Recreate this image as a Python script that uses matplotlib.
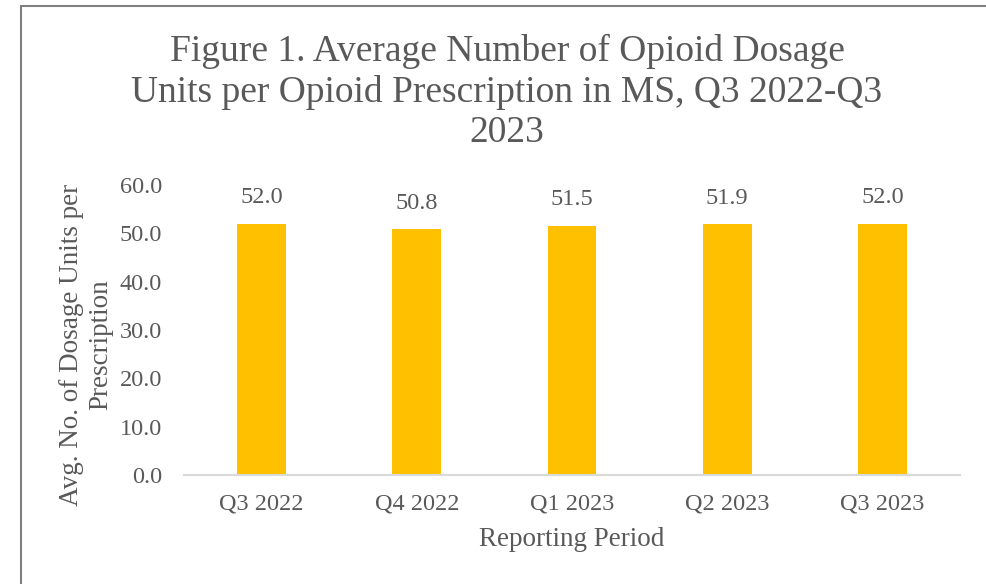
import matplotlib
matplotlib.use("Agg")
import matplotlib.pyplot as plt
from matplotlib.patches import Rectangle

categories = ["Q3 2022", "Q4 2022", "Q1 2023", "Q2 2023", "Q3 2023"]
values = [52.0, 50.8, 51.5, 51.9, 52.0]
yticks = [0, 10, 20, 30, 40, 50, 60]

plt.rcParams['font.family'] = ['Liberation Serif', 'DejaVu Serif']
txt = '#595959'
W, H = 987, 584

fig = plt.figure(figsize=(9.87, 5.84), dpi=100)
fig.patches.append(Rectangle((21/W, -0.05), 1.2, 1 - 6/H + 0.05,
                             transform=fig.transFigure, fill=False,
                             edgecolor='#7f7f7f', linewidth=1.5))
ax = fig.add_axes([184/W, 1 - 475/H, (960 - 184)/W, (475 - 185)/H])
x = range(len(categories))
ax.bar(x, values, width=0.315, color='#FFC000')
for xi, v in zip(x, values):
    ax.text(xi, v + 5.4, f"{v:.1f}", ha='center', va='center', color=txt, fontsize=17.5)
ax.set_xlim(-0.5, len(categories) - 0.5)
ax.set_ylim(0, 60)
ax.set_yticks(yticks)
ax.set_yticklabels([f"{t:.1f}" for t in yticks], color=txt, fontsize=17.5)
ax.set_xticks(list(x))
ax.set_xticklabels(categories, color=txt, fontsize=17.5)
ax.tick_params(axis='x', length=0, pad=13)
ax.tick_params(axis='y', length=0, pad=16)
for s in ['top', 'right', 'left']:
    ax.spines[s].set_visible(False)
ax.spines['bottom'].set_color('#d9d9d9')
ax.spines['bottom'].set_linewidth(1.5)
fig.text(572/W, 1 - 539/H, "Reporting Period", ha='center', va='center', color=txt, fontsize=19.5)
fig.text(86/W, 1 - 345/H, "Avg. No. of Dosage Units per\nPrescription", rotation=90,
         ha='center', va='center', color=txt, fontsize=19.5, linespacing=1.25,
         multialignment='center')
fig.text(507/W, 1 - 92/H,
         "Figure 1. Average Number of Opioid Dosage\nUnits per Opioid Prescription in MS, Q3 2022-Q3\n2023",
         ha='center', va='center', color=txt, fontsize=27, linespacing=1.22)
fig.savefig("out.png", dpi=100)
